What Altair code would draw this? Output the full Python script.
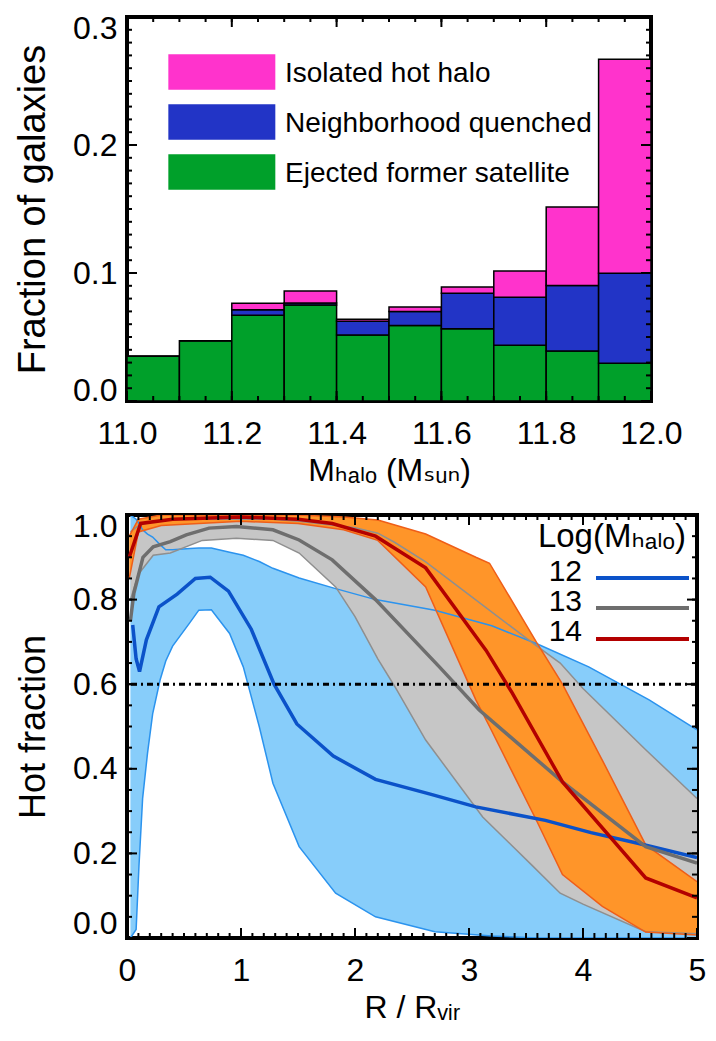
import altair as alt
import numpy as np
import pandas as pd

FONT = "Liberation Sans, Arial, Helvetica, DejaVu Sans, sans-serif"

# ---------------- top panel data ----------------
bin_lo = [11.0, 11.1, 11.2, 11.3, 11.4, 11.5, 11.6, 11.7, 11.8, 11.9]
bin_hi = [11.1, 11.2, 11.3, 11.4, 11.5, 11.6, 11.7, 11.8, 11.9, 12.0]
ejected = [0.035, 0.047, 0.067, 0.075, 0.0515, 0.059, 0.0565, 0.0435, 0.039, 0.0295]
neighborhood = [0.0, 0.0, 0.0042, 0.0016, 0.0108, 0.0109, 0.0277, 0.0375, 0.0512, 0.0704]
isolated = [0.0, 0.0, 0.0051, 0.0093, 0.0016, 0.0036, 0.0048, 0.0206, 0.0613, 0.167]
series_names = ["Isolated hot halo", "Neighborhood quenched", "Ejected former satellite"]
series_colors = ["#ff33cc", "#2234c6", "#00a02a"]
top_x_ticks = [11.0, 11.2, 11.4, 11.6, 11.8, 12.0]
top_y_ticks = [0.0, 0.1, 0.2, 0.3]

# ---------------- bottom panel data ----------------
b12_x = [0.03, 0.08, 0.105, 0.137, 0.18, 0.225, 0.29, 0.34, 0.40, 0.55, 0.63, 0.74, 0.90,
         1.02, 1.16, 1.28, 1.51, 1.83, 2.18, 2.7, 3.2, 3.6, 4.05, 4.58, 5.0]
b12_hi = [1.0, 0.99, 0.98, 0.965, 0.955, 0.948, 0.93, 0.918, 0.918, 0.921, 0.922, 0.922, 0.912,
          0.905, 0.89, 0.874, 0.851, 0.826, 0.80, 0.775, 0.738, 0.695, 0.641, 0.563, 0.492]
b12_lo = [0.0, 0.02, 0.17, 0.33, 0.437, 0.53, 0.61, 0.655, 0.69, 0.745, 0.775, 0.776, 0.72,
          0.641, 0.50, 0.366, 0.216, 0.106, 0.05, 0.015, 0.005, 0.0, 0.0, 0.0, 0.0]

g13_x = [0.03, 0.1, 0.23, 0.38, 0.66, 0.96, 1.28, 1.51, 1.83, 2.0, 2.2, 2.35, 2.62, 3.12,
         3.56, 3.8, 4.0, 4.55, 5.0]
g13_hi = [0.96, 0.975, 0.985, 0.99, 0.99, 0.99, 0.99, 0.985, 0.975, 0.97, 0.957, 0.935, 0.889,
          0.787, 0.697, 0.65, 0.59, 0.445, 0.33]
g13_lo = [0.80, 0.86, 0.905, 0.91, 0.94, 0.945, 0.94, 0.91, 0.83, 0.76, 0.66, 0.594, 0.468,
          0.286, 0.17, 0.106, 0.08, 0.015, 0.01]

o14_x = [0.02, 0.1, 0.3, 1.0, 1.5, 1.9, 2.2, 2.62, 3.06, 3.18, 3.59, 3.82, 4.17, 4.55, 5.0]
o14_hi = [0.95, 0.99, 1.0, 1.0, 1.0, 0.995, 0.988, 0.955, 0.90, 0.886, 0.70, 0.60, 0.42, 0.22, 0.133]
o14_lo = [0.85, 0.96, 0.975, 0.985, 0.98, 0.965, 0.94, 0.83, 0.563, 0.50, 0.279, 0.15, 0.075,
          0.014, 0.007]

m12_x = [0.05, 0.08, 0.11, 0.17, 0.28, 0.44, 0.6, 0.73, 0.89, 1.09, 1.29, 1.49, 1.81, 2.18,
         2.66, 3.06, 3.67, 4.07, 4.48, 5.0]
m12_y = [0.74, 0.66, 0.63, 0.705, 0.783, 0.813, 0.85, 0.853, 0.82, 0.73, 0.6, 0.506, 0.43,
         0.375, 0.34, 0.31, 0.278, 0.249, 0.224, 0.19]
m13_x = [0.03, 0.06, 0.14, 0.23, 0.38, 0.52, 0.72, 0.96, 1.28, 1.51, 1.80, 2.18, 2.74, 3.09,
         3.82, 4.55, 5.0]
m13_y = [0.75, 0.815, 0.90, 0.925, 0.937, 0.953, 0.969, 0.973, 0.965, 0.941, 0.894, 0.80,
         0.641, 0.539, 0.369, 0.216, 0.177]
m14_x = [0.02, 0.12, 0.4, 1.0, 1.5, 1.8, 2.18, 2.62, 3.15, 3.38, 3.82, 4.55, 5.0]
m14_y = [0.90, 0.98, 0.99, 0.995, 0.99, 0.98, 0.95, 0.875, 0.68, 0.579, 0.369, 0.142, 0.095]

threshold = [0.6]
legend_labels = ["12", "13", "14"]
median_colors = ["#0b52c9", "#6e6e6e", "#b30000"]
fill_colors = ["#87cdfa", "#c6c6c6", "#ff9529"]
edge_colors = ["#2b93ee", "#8f8f8f", "#ef5e18"]
bot_x_ticks = [0, 1, 2, 3, 4, 5]
bot_y_ticks = [0.0, 0.2, 0.4, 0.6, 0.8, 1.0]

# ---------------- geometry ----------------
W1, H1 = 524, 384
W2, H2 = 570, 423


def tick_layers(xenc, yenc, xmaj, xmin, ymaj, ymin, W, H):
    layers = []
    for vals, L in ((xmaj, 10), (xmin, 5)):
        d = pd.DataFrame({"t": vals})
        for y0, y1 in ((H, H - L), (0, L)):
            layers.append(alt.Chart(d).mark_rule(color="black", strokeWidth=2).encode(
                x=xenc("t"), y=alt.value(y0), y2=alt.value(y1)))
    for vals, L in ((ymaj, 10), (ymin, 5)):
        d = pd.DataFrame({"t": vals})
        for x0, x1 in ((0, L), (W, W - L)):
            layers.append(alt.Chart(d).mark_rule(color="black", strokeWidth=2).encode(
                y=yenc("t"), x=alt.value(x0), x2=alt.value(x1)))
    return layers


# ---------------- top panel ----------------
rows = []
for i in range(len(bin_lo)):
    base = 0.0
    for name, vals in ((series_names[2], ejected), (series_names[1], neighborhood),
                       (series_names[0], isolated)):
        rows.append({"lo": bin_lo[i], "hi": bin_hi[i], "series": name,
                     "y0": base, "y1": base + vals[i]})
        base += vals[i]
top_df = pd.DataFrame(rows)

xs1 = alt.Scale(domain=[11.0, 12.0], nice=False, zero=False)
ys1 = alt.Scale(domain=[0.0, 0.3], nice=False)
xax1 = alt.Axis(values=top_x_ticks, format=".1f", labelFlush=False, labelPadding=17,
                titlePadding=6, title="Mₕₐₗₒ (Mₛᵤₙ)")
yax1 = alt.Axis(values=top_y_ticks, format=".1f", labelFlush=False, labelPadding=10,
                labelOffset=alt.ExprRef("datum.value >= 0.299 ? 11 : (datum.value <= 0.001 ? -11 : 0)"),
                titlePadding=20, titleFontSize=38, title="Fraction of galaxies")


def X1(f):
    return alt.X(f"{f}:Q", scale=xs1, axis=xax1)


def Y1(f):
    return alt.Y(f"{f}:Q", scale=ys1, axis=yax1)


bars = alt.Chart(top_df).mark_rect(stroke="black", strokeWidth=1.5, opacity=1).encode(
    x=X1("lo"), x2="hi:Q", y=Y1("y0"), y2="y1:Q",
    color=alt.Color("series:N",
                    scale=alt.Scale(domain=series_names, range=series_colors),
                    legend=alt.Legend(title=None, orient="none", legendX=41, legendY=29,
                                      symbolType="M-1,-0.78H2V0.22H-1Z", symbolSize=5087,
                                      symbolStrokeWidth=0, symbolOpacity=1,
                                      labelFont=FONT, labelFontSize=28, labelColor="black",
                                      labelBaseline="alphabetic",
                                      labelOffset=45, rowPadding=6, padding=0, labelLimit=0)),
)

top_ticks = tick_layers(X1, Y1, top_x_ticks, list(np.round(np.arange(11.0, 12.001, 0.05), 3)),
                        top_y_ticks, list(np.round(np.arange(0, 0.3001, 0.01), 3)), W1, H1)
top = alt.layer(bars, *top_ticks).properties(width=W1, height=H1)

# ---------------- bottom panel ----------------
xs2 = alt.Scale(domain=[0, 5], nice=False, zero=False)
ys2 = alt.Scale(domain=[0, 1], nice=False)
xax2 = alt.Axis(values=bot_x_ticks, format="d", labelFlush=False, labelPadding=17,
                titlePadding=6, title="R / Rᵥᵢᵣ")
yax2 = alt.Axis(values=bot_y_ticks, format=".1f", labelFlush=False, labelPadding=10,
                labelOffset=alt.ExprRef("datum.value >= 0.999 ? 11 : (datum.value <= 0.001 ? -15 : 0)"),
                titlePadding=20, titleFontSize=36, title="Hot fraction")


def X2(f):
    return alt.X(f"{f}:Q", scale=xs2, axis=xax2)


def Y2(f):
    return alt.Y(f"{f}:Q", scale=ys2, axis=yax2)


bands = [(b12_x, b12_lo, b12_hi), (g13_x, g13_lo, g13_hi), (o14_x, o14_lo, o14_hi)]
medians = [(m12_x, m12_y), (m13_x, m13_y), (m14_x, m14_y)]

layers = []
for k, (bx, blo, bhi) in enumerate(bands):
    d = pd.DataFrame({"x": bx, "lo": blo, "hi": bhi})
    layers.append(alt.Chart(d).mark_area(color=fill_colors[k], opacity=1, clip=True).encode(
        x=X2("x"), y=Y2("hi"), y2="lo:Q"))

for k, (bx, blo, bhi) in enumerate(bands):
    d = pd.DataFrame({"x": bx, "lo": blo, "hi": bhi})
    for fld in ("hi", "lo"):
        layers.append(alt.Chart(d).mark_line(color=edge_colors[k], strokeWidth=1.5, clip=True).encode(
            x=X2("x"), y=Y2(fld)))

for k, (mx, my) in enumerate(medians):
    d = pd.DataFrame({"x": mx, "y": my})
    layers.append(alt.Chart(d).mark_line(color=median_colors[k], strokeWidth=3.5, clip=True).encode(
        x=X2("x"), y=Y2("y")))

layers.append(alt.Chart(pd.DataFrame({"v": threshold})).mark_rule(
    color="black", strokeWidth=3, strokeDash=[6, 4, 2, 4]).encode(y=Y2("v")))

layers += tick_layers(X2, Y2, bot_x_ticks, list(np.round(np.arange(0, 5.001, 0.1), 3)),
                      bot_y_ticks, list(np.round(np.arange(0, 1.0001, 0.05), 3)), W2, H2)

# legend (labels to the left of line samples)
layers.append(alt.Chart(pd.DataFrame({"t": ["Log(Mₕₐₗₒ)"]})).mark_text(
    font=FONT, fontSize=33, align="right", baseline="middle", color="black").encode(
    x=alt.value(559), y=alt.value(22), text="t:N"))
leg_y_text = [57, 87, 117]
leg_y_line = [63, 93, 124]
for k, lab in enumerate(legend_labels):
    d = pd.DataFrame({"t": [lab]})
    layers.append(alt.Chart(d).mark_text(font=FONT, fontSize=30, align="right",
                                         baseline="middle", color="black").encode(
        x=alt.value(455), y=alt.value(leg_y_text[k]), text="t:N"))
    layers.append(alt.Chart(d).mark_rule(color=median_colors[k], strokeWidth=4).encode(
        x=alt.value(469), x2=alt.value(562), y=alt.value(leg_y_line[k])))

bottom = alt.layer(*layers).properties(width=W2, height=H2)

chart = alt.vconcat(top, bottom, spacing=20).properties(
    padding={"left": 4, "top": 2, "right": 0, "bottom": 2}
).configure_axis(
    labelFont=FONT, titleFont=FONT, labelFontSize=32, titleFontSize=32,
    titleFontWeight="normal", labelColor="black", titleColor="black",
    grid=False, ticks=False, domain=False
).configure_view(stroke="black", strokeWidth=4)

chart.save("out.html", embed_options={"renderer": "svg", "actions": False})
